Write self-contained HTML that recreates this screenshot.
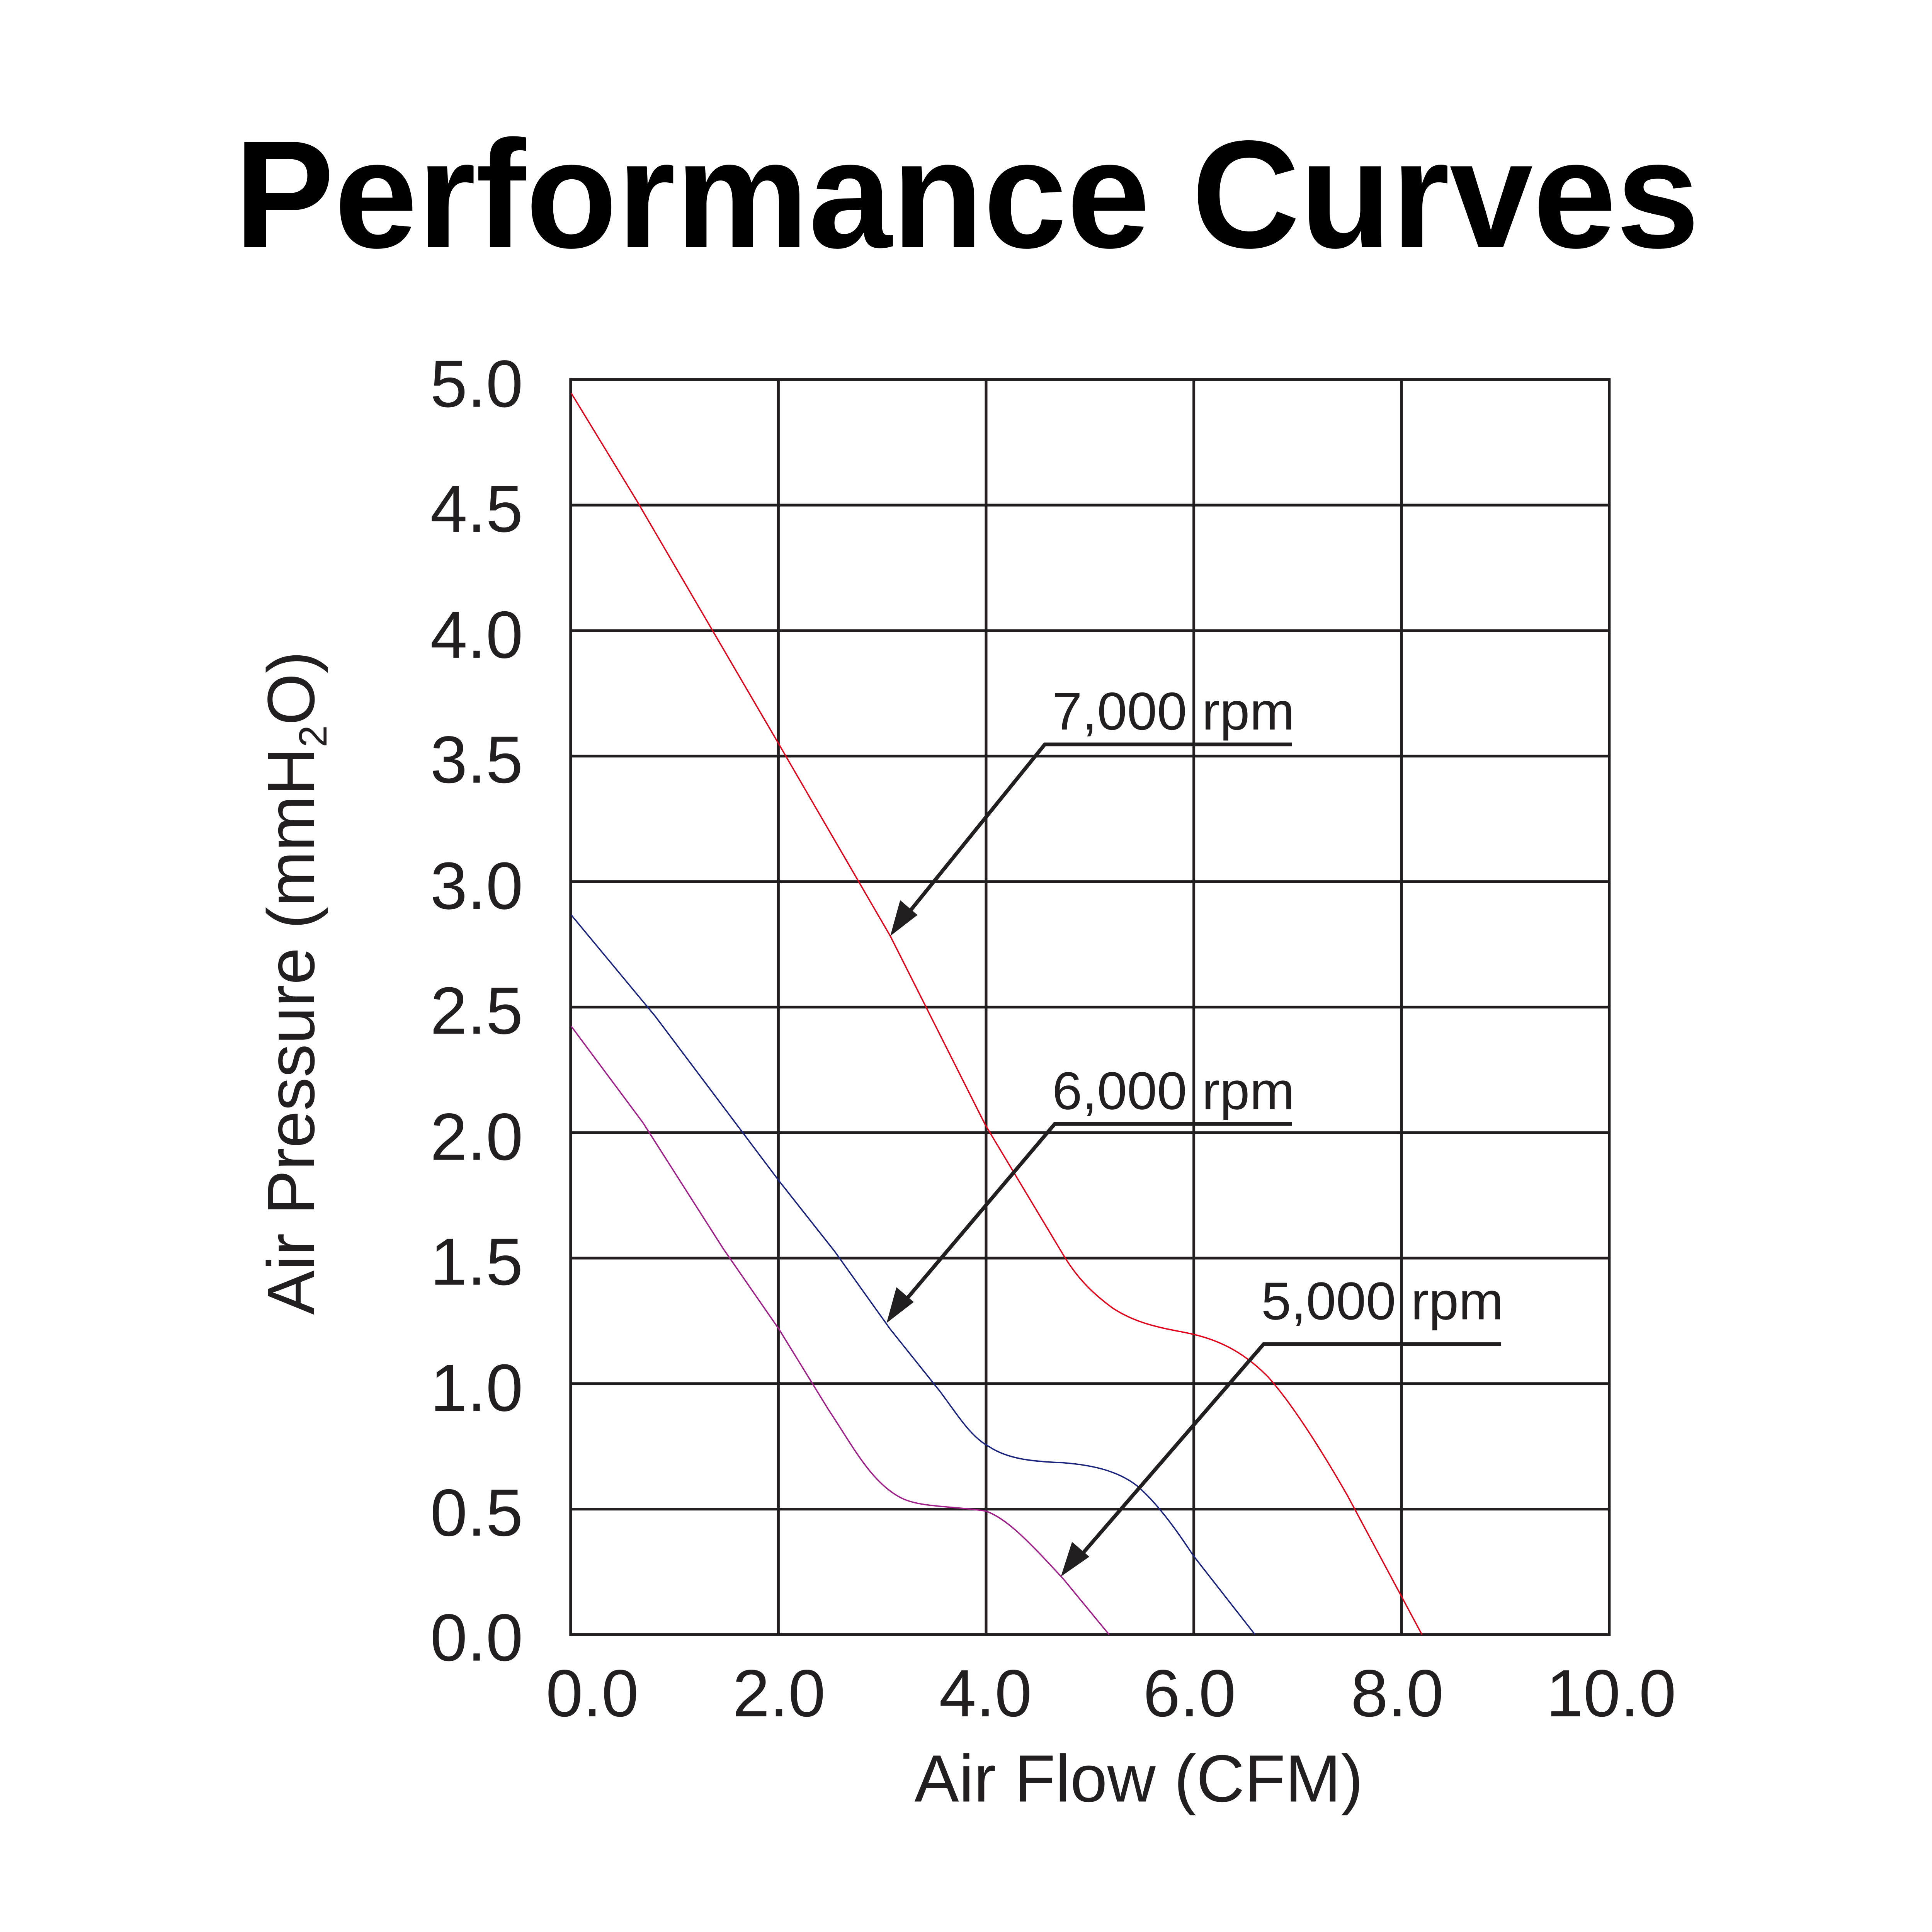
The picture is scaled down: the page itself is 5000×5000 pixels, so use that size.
<!DOCTYPE html>
<html><head><style>html,body{margin:0;padding:0;background:#fff}svg{display:block}</style></head>
<body>
<svg xmlns="http://www.w3.org/2000/svg" width="5000" height="5000" viewBox="0 0 1562.5 1562.5" font-family="Liberation Sans, Arial, sans-serif">
<rect width="1562.5" height="1562.5" fill="#fff"/>
<text x="782" y="200" font-size="124" font-weight="bold" text-anchor="middle" textLength="1185" lengthAdjust="spacingAndGlyphs">Performance Curves</text>
<g stroke="#231f20" stroke-width="2.2" fill="none">
<rect x="461.5" y="307" width="840" height="1015"/>
<path d="M629.5 307V1322M797.5 307V1322M965.5 307V1322M1133.5 307V1322"/>
<path d="M461.5 408.5H1301.5M461.5 510H1301.5M461.5 611.5H1301.5M461.5 713H1301.5M461.5 814.5H1301.5M461.5 916H1301.5M461.5 1017.5H1301.5M461.5 1119H1301.5M461.5 1220.5H1301.5"/>
</g>
<g fill="none" stroke-width="1.1">
<path stroke="#e3001b" d="M462 318 L515 405 L630 602 L720 757 L797 910 L860 1015 C872 1035 885 1047 900 1058 C920 1071 940 1074 960 1078 C985 1083 1005 1093 1025 1113 C1045 1135 1070 1175 1090 1210 L1150 1322"/>
<path stroke="#1a237e" d="M462 740 L530 822 L630 955 L675 1012 L720 1075 L760 1125 C775 1145 785 1162 800 1170 C815 1180 835 1182 860 1183 C885 1185 905 1190 920 1202 C935 1215 950 1235 965 1258 L1015 1322"/>
<path stroke="#a0208a" d="M462 830 L520 908 L585 1010 L630 1075 L670 1140 C690 1170 705 1200 730 1212 C745 1219 770 1218 797 1222 C815 1228 835 1250 860 1277 L897 1322"/>
</g>
<g stroke="#231f20" stroke-width="3" fill="none">
<path d="M1045 602H845L735 738"/>
<path d="M1045 909H853L732 1052"/>
<path d="M1214 1087H1022L875 1257"/>
</g>
<g fill="#231f20">
<polygon points="720,757 728,728 742,740"/>
<polygon points="717,1070 725,1041 739,1053"/>
<polygon points="858,1275 867,1247 881,1259"/>
</g>
<g fill="#231f20" font-size="43">
<text x="851" y="590" textLength="196" lengthAdjust="spacingAndGlyphs">7,000 rpm</text>
<text x="851" y="897" textLength="196" lengthAdjust="spacingAndGlyphs">6,000 rpm</text>
<text x="1020" y="1067" textLength="196" lengthAdjust="spacingAndGlyphs">5,000 rpm</text>
</g>
<g fill="#231f20" font-size="54" text-anchor="end">
<text x="423" y="329">5.0</text>
<text x="423" y="430">4.5</text>
<text x="423" y="532">4.0</text>
<text x="423" y="633">3.5</text>
<text x="423" y="735">3.0</text>
<text x="423" y="836">2.5</text>
<text x="423" y="938">2.0</text>
<text x="423" y="1039">1.5</text>
<text x="423" y="1141">1.0</text>
<text x="423" y="1242">0.5</text>
<text x="423" y="1343">0.0</text>
</g>
<g fill="#231f20" font-size="54" text-anchor="middle">
<text x="479" y="1388">0.0</text>
<text x="630" y="1388">2.0</text>
<text x="797" y="1388">4.0</text>
<text x="962" y="1388">6.0</text>
<text x="1130" y="1388">8.0</text>
<text x="1303" y="1388">10.0</text>
<text x="921" y="1457">Air Flow (CFM)</text>
</g>
<text transform="translate(254,795) rotate(-90)" fill="#231f20" font-size="54" text-anchor="middle">Air Pressure (mmH<tspan font-size="32" dy="10">2</tspan><tspan dy="-10">O)</tspan></text>
</svg>
</body></html>
